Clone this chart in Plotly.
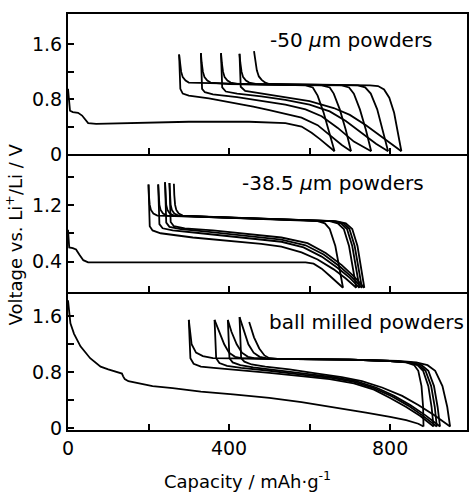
import plotly.graph_objects as go

# ---------------- data (capacity in mAh/g, voltage in V) ----------------
# Panel 1: -50 um powders
top_first_cap = [0, 2, 5, 12, 25, 35, 42, 50, 70, 150, 300, 450, 540, 580, 605, 625, 645, 662]
top_first_v = [0.95, 0.8, 0.63, 0.61, 0.6, 0.56, 0.5, 0.45, 0.44, 0.45, 0.47, 0.47, 0.45, 0.4, 0.31, 0.22, 0.12, 0.04]
top_dis_cap = [
    [276, 277, 279, 285, 300, 350, 420, 460, 500, 540, 580, 620, 655, 680, 703],
    [330, 331, 333, 340, 360, 420, 480, 540, 590, 630, 670, 710, 753],
    [380, 381, 383, 392, 420, 480, 540, 600, 650, 690, 730, 765, 795],
    [426, 427, 429, 440, 470, 530, 600, 660, 700, 740, 780, 828],
]
top_dis_v = [
    [1.45, 1.15, 0.95, 0.88, 0.85, 0.81, 0.74, 0.69, 0.64, 0.59, 0.53, 0.42, 0.25, 0.13, 0.04],
    [1.47, 1.15, 0.95, 0.9, 0.87, 0.83, 0.78, 0.72, 0.65, 0.55, 0.38, 0.18, 0.04],
    [1.47, 1.15, 0.97, 0.91, 0.88, 0.84, 0.79, 0.72, 0.62, 0.48, 0.3, 0.15, 0.04],
    [1.46, 1.15, 0.98, 0.92, 0.89, 0.84, 0.77, 0.67, 0.57, 0.42, 0.25, 0.04],
]
top_chg_cap = [
    [662, 650, 635, 620, 608, 590, 500, 400, 300, 292, 285, 281, 278, 276],
    [703, 690, 675, 660, 650, 630, 500, 400, 354, 346, 339, 335, 332, 330],
    [753, 740, 725, 710, 698, 680, 500, 420, 404, 396, 389, 385, 382, 380],
    [795, 782, 768, 752, 738, 720, 500, 466, 450, 442, 435, 431, 428, 426],
    [828, 820, 810, 798, 785, 770, 750, 500, 490, 481, 474, 469, 465, 462],
]
top_chg_v = [
    [0.04, 0.3, 0.6, 0.85, 0.97, 1.0, 1.01, 1.02, 1.04, 1.07, 1.12, 1.2, 1.32, 1.45],
    [0.04, 0.35, 0.65, 0.88, 0.97, 1.0, 1.01, 1.02, 1.04, 1.07, 1.12, 1.2, 1.33, 1.47],
    [0.04, 0.35, 0.65, 0.88, 0.97, 1.0, 1.01, 1.02, 1.04, 1.07, 1.12, 1.2, 1.33, 1.47],
    [0.04, 0.35, 0.65, 0.88, 0.97, 1.0, 1.01, 1.02, 1.04, 1.07, 1.12, 1.2, 1.33, 1.46],
    [0.04, 0.3, 0.6, 0.82, 0.94, 0.99, 1.0, 1.02, 1.04, 1.08, 1.13, 1.22, 1.35, 1.5],
]

# Panel 2: -38.5 um powders
mid_first_cap = [0, 1, 3, 12, 20, 28, 38, 50, 150, 300, 450, 590, 610, 630, 650, 668, 683]
mid_first_v = [0.85, 0.7, 0.6, 0.59, 0.57, 0.5, 0.42, 0.39, 0.39, 0.39, 0.39, 0.39, 0.37, 0.3, 0.2, 0.1, 0.03]
mid_dis_cap = [
    [200, 201, 203, 210, 230, 310, 400, 480, 530, 580, 620, 660, 690, 716],
    [224, 225, 227, 235, 260, 330, 420, 480, 530, 585, 630, 670, 700, 724],
    [241, 242, 244, 252, 280, 350, 430, 490, 530, 590, 635, 675, 705, 730],
    [252, 253, 255, 263, 290, 360, 440, 500, 530, 595, 640, 680, 710, 736],
]
mid_dis_v = [
    [1.49, 1.1, 0.9, 0.84, 0.8, 0.74, 0.69, 0.65, 0.61, 0.53, 0.43, 0.29, 0.16, 0.03],
    [1.49, 1.1, 0.93, 0.87, 0.84, 0.8, 0.75, 0.71, 0.68, 0.6, 0.47, 0.31, 0.17, 0.03],
    [1.52, 1.1, 0.95, 0.89, 0.86, 0.82, 0.77, 0.74, 0.71, 0.63, 0.5, 0.33, 0.18, 0.03],
    [1.51, 1.1, 0.96, 0.9, 0.87, 0.84, 0.79, 0.76, 0.74, 0.66, 0.52, 0.35, 0.19, 0.03],
]
mid_chg_cap = [
    [683, 675, 664, 650, 638, 620, 500, 350, 222, 212, 206, 203, 201, 200],
    [716, 708, 698, 685, 670, 650, 500, 350, 246, 236, 230, 227, 225, 224],
    [724, 716, 706, 693, 678, 655, 500, 350, 263, 253, 247, 244, 242, 241],
    [730, 722, 712, 699, 684, 660, 500, 350, 274, 264, 258, 255, 253, 252],
    [736, 729, 719, 706, 690, 665, 500, 350, 285, 275, 269, 266, 264, 263],
]
mid_chg_v = [
    [0.03, 0.3, 0.62, 0.86, 0.94, 0.97, 1.0, 1.03, 1.05, 1.08, 1.13, 1.2, 1.33, 1.49],
    [0.03, 0.3, 0.62, 0.86, 0.94, 0.97, 1.0, 1.03, 1.05, 1.08, 1.13, 1.2, 1.33, 1.49],
    [0.03, 0.3, 0.62, 0.86, 0.94, 0.97, 1.0, 1.03, 1.05, 1.08, 1.13, 1.2, 1.35, 1.52],
    [0.03, 0.3, 0.62, 0.86, 0.94, 0.97, 1.0, 1.03, 1.05, 1.08, 1.13, 1.2, 1.35, 1.51],
    [0.03, 0.3, 0.62, 0.86, 0.94, 0.97, 1.0, 1.03, 1.05, 1.08, 1.13, 1.2, 1.34, 1.5],
]

# Panel 3: ball milled powders
bot_first_cap = [0, 3, 6, 15, 31, 55, 81, 100, 118, 134, 137, 141, 150, 180, 210, 260, 330, 410,
                 500, 580, 660, 740, 800, 840, 870, 883]
bot_first_v = [1.83, 1.65, 1.5, 1.35, 1.17, 1.0, 0.88, 0.84, 0.81, 0.78, 0.74, 0.7, 0.67, 0.63, 0.6,
               0.57, 0.52, 0.48, 0.43, 0.37, 0.3, 0.22, 0.16, 0.11, 0.06, 0.02]
bot_dis_cap = [
    [300, 302, 304, 312, 330, 362, 430, 500, 585, 650, 710, 760, 800, 840, 875, 908],
    [364, 366, 368, 376, 395, 430, 500, 585, 650, 710, 760, 805, 845, 880, 916],
    [397, 399, 401, 409, 428, 460, 520, 600, 660, 715, 765, 810, 850, 888, 924],
    [426, 428, 430, 438, 456, 490, 550, 620, 680, 730, 780, 830, 870, 910, 949],
]
bot_dis_v = [
    [1.55, 1.2, 1.0, 0.92, 0.88, 0.86, 0.83, 0.79, 0.74, 0.7, 0.64, 0.55, 0.43, 0.3, 0.17, 0.02],
    [1.55, 1.2, 1.0, 0.93, 0.89, 0.86, 0.82, 0.76, 0.72, 0.66, 0.57, 0.45, 0.32, 0.18, 0.02],
    [1.55, 1.2, 1.0, 0.94, 0.9, 0.87, 0.83, 0.77, 0.73, 0.67, 0.58, 0.46, 0.33, 0.18, 0.02],
    [1.59, 1.2, 1.0, 0.95, 0.91, 0.88, 0.84, 0.78, 0.73, 0.67, 0.58, 0.46, 0.33, 0.18, 0.02],
]
bot_chg_cap = [
    [883, 882, 878, 870, 860, 840, 800, 700, 500, 360, 335, 318, 307, 302, 300],
    [908, 903, 895, 882, 868, 845, 800, 700, 500, 430, 415, 400, 388, 375, 364],
    [916, 911, 902, 888, 872, 848, 800, 700, 500, 462, 447, 432, 419, 406, 397],
    [924, 918, 909, 895, 878, 852, 800, 700, 520, 492, 476, 461, 448, 436, 426],
    [949, 942, 930, 912, 893, 865, 820, 700, 520, 500, 488, 475, 462, 450],
]
bot_chg_v = [
    [0.02, 0.3, 0.6, 0.82, 0.9, 0.94, 0.96, 0.98, 0.99, 1.0, 1.03, 1.08, 1.2, 1.4, 1.55],
    [0.02, 0.3, 0.6, 0.82, 0.9, 0.94, 0.96, 0.98, 0.99, 1.0, 1.02, 1.08, 1.2, 1.38, 1.55],
    [0.02, 0.3, 0.6, 0.82, 0.9, 0.94, 0.96, 0.98, 0.99, 1.0, 1.02, 1.08, 1.2, 1.38, 1.55],
    [0.02, 0.3, 0.6, 0.82, 0.9, 0.94, 0.96, 0.98, 0.99, 1.0, 1.02, 1.08, 1.2, 1.4, 1.59],
    [0.02, 0.3, 0.6, 0.82, 0.9, 0.94, 0.96, 0.98, 0.99, 1.0, 1.04, 1.14, 1.3, 1.52],
]

x_major = [0, 400, 800]
x_minor = [200, 600]
top_ymajor = [0, 0.8, 1.6]
top_yminor = [0.4, 1.2]
mid_ymajor = [0.4, 1.2]
mid_yminor = [0.8, 1.6]
bot_ymajor = [0, 0.8, 1.6]
bot_yminor = [0.4, 1.2]
panel_labels = ["-50 <i>µ</i>m powders", "-38.5 <i>µ</i>m powders", "ball milled powders"]

# ---------------- figure ----------------
FONT = "DejaVu Sans"
fig = go.Figure()
line = dict(color="black", width=1.8)

panels = [
    ("x", "y", top_first_cap, top_first_v, top_dis_cap, top_dis_v, top_chg_cap, top_chg_v),
    ("x2", "y2", mid_first_cap, mid_first_v, mid_dis_cap, mid_dis_v, mid_chg_cap, mid_chg_v),
    ("x3", "y3", bot_first_cap, bot_first_v, bot_dis_cap, bot_dis_v, bot_chg_cap, bot_chg_v),
]
for xa, ya, fc, fv, dc, dv, cc, cv in panels:
    fig.add_trace(go.Scatter(x=fc, y=fv, mode="lines", line=line, xaxis=xa, yaxis=ya,
                             showlegend=False, hoverinfo="skip"))
    for c, v in zip(dc, dv):
        fig.add_trace(go.Scatter(x=c, y=v, mode="lines", line=line, xaxis=xa, yaxis=ya,
                                 showlegend=False, hoverinfo="skip"))
    for c, v in zip(cc, cv):
        fig.add_trace(go.Scatter(x=c, y=v, mode="lines", line=line, xaxis=xa, yaxis=ya,
                                 showlegend=False, hoverinfo="skip"))

tick_style = dict(ticks="inside", ticklen=6, tickwidth=1.5, tickcolor="black")
common_x = dict(range=[0, 991], showline=True, linecolor="black", linewidth=2,
                tickvals=x_major, showgrid=False, zeroline=False, automargin=False,
                minor=dict(tickvals=x_minor, showgrid=False, **tick_style),
                tickfont=dict(family=FONT, size=19, color="black"), **tick_style)
common_y = dict(showline=True, linecolor="black", linewidth=2, mirror=True,
                showgrid=False, zeroline=False, automargin=False,
                tickfont=dict(family=FONT, size=19, color="black"), **tick_style)

d_top = [0.6635, 1.0]
d_mid = [0.3317, 0.6635]
d_bot = [0.0, 0.3317]

fig.update_layout(
    width=470, height=492,
    margin=dict(l=68, r=3, t=14, b=62, autoexpand=False),
    paper_bgcolor="white", plot_bgcolor="white",
    font=dict(family=FONT, color="black"),
    xaxis=dict(common_x, anchor="y", showticklabels=False, mirror=True),
    xaxis2=dict(common_x, anchor="y2", showticklabels=False, mirror=False),
    xaxis3=dict(common_x, anchor="y3", showticklabels=True, mirror=False),
    yaxis=dict(common_y, domain=d_top, range=[0, 2.04], anchor="x", tickvals=top_ymajor,
               minor=dict(tickvals=top_yminor, showgrid=False, **tick_style)),
    yaxis2=dict(common_y, domain=d_mid, range=[-0.03, 1.92], anchor="x2", tickvals=mid_ymajor,
                minor=dict(tickvals=mid_yminor, showgrid=False, **tick_style)),
    yaxis3=dict(common_y, domain=d_bot, range=[-0.03, 1.95], anchor="x3", tickvals=bot_ymajor,
                minor=dict(tickvals=bot_yminor, showgrid=False, **tick_style)),
)

ann_pos = [(0.501, 0.9375), (0.431, 0.594), (0.498, 0.2604)]
for (px, py), txt in zip(ann_pos, panel_labels):
    fig.add_annotation(x=px, y=py, xref="paper", yref="paper", text=txt, showarrow=False,
                       xanchor="left", yanchor="middle",
                       font=dict(family=FONT, size=20, color="black"))

fig.add_annotation(x=0.45, y=-0.12, xref="paper", yref="paper",
                   text="Capacity / mAh·g<sup>-1</sup>", showarrow=False,
                   xanchor="center", yanchor="middle",
                   font=dict(family=FONT, size=18, color="black"))
fig.add_annotation(x=-0.133, y=0.47, xref="paper", yref="paper",
                   text="Voltage vs. Li<sup>+</sup>/Li / V", showarrow=False, textangle=-90,
                   xanchor="center", yanchor="middle",
                   font=dict(family=FONT, size=18, color="black"))

fig.write_html("out.html", config={"displayModeBar": False},
               post_script="document.body.style.margin='0';document.body.style.padding='0';")
